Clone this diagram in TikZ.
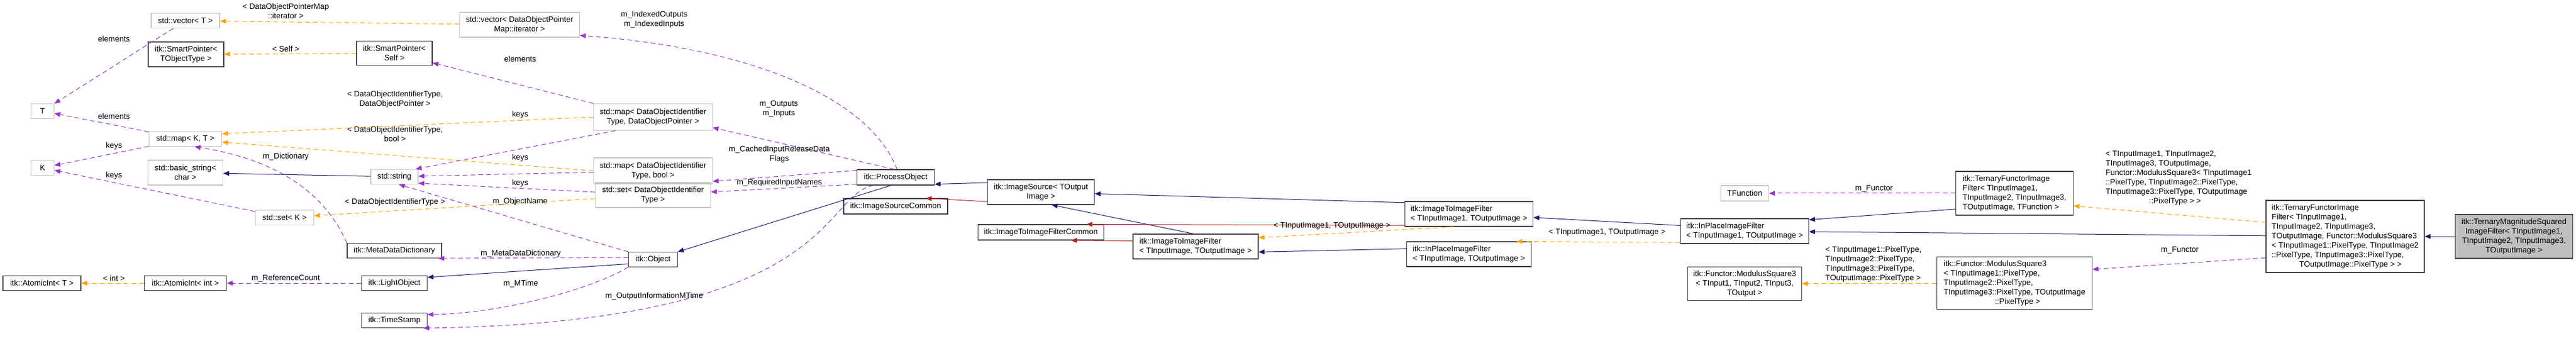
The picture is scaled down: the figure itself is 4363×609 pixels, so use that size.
\documentclass[tikz,border=0pt]{standalone}
\usepackage{fontspec}
\setmainfont{Liberation Sans}
\usetikzlibrary{arrows.meta,positioning}
\definecolor{inhblue}{RGB}{25,25,112}
\definecolor{useviolet}{RGB}{153,50,204}
\definecolor{tmplorange}{RGB}{255,165,0}
\definecolor{protred}{RGB}{178,34,34}
\tikzset{
  box/.style={draw=black!75, line width=0.9pt, inner sep=1pt, align=center, font=\fontsize{10}{12}\selectfont},
  extbox/.style={box, draw=black!22},
  selbox/.style={box, fill=black!25},
  wh/.style 2 args={minimum width=#1*0.75pt, minimum height=#2*0.75pt},
  lbl/.style={inner sep=0pt, align=center, font=\fontsize{10}{12}\selectfont},
  tip/.style={-{Triangle[length=7.5pt,width=6pt]}},
  inherit/.style={tip, draw=inhblue, line width=0.75pt},
  protinh/.style={tip, draw=protred, line width=0.75pt},
  uses/.style={tip, draw=useviolet, line width=0.75pt, dash pattern=on 6pt off 4pt},
  tmpl/.style={tip, draw=tmplorange, line width=0.75pt, dash pattern=on 6pt off 4pt}
}
\begin{document}
\begin{tikzpicture}[x=0.75pt,y=-0.75pt]
\useasboundingbox (0,0) rectangle (4363,609);
% classes
\node (vecT) [extbox, wh={116}{25}] at (314,35) {std::vector< T >};
\node (spT) [box, wh={128}{42}] at (315,92) {itk::SmartPointer<\\ TObjectType >};
\node (T) [extbox, wh={39}{25}] at (72,188) {T};
\node (mapKT) [extbox, wh={123}{25}] at (314,235) {std::map< K, T >};
\node (K) [extbox, wh={39}{25}] at (72,284) {K};
\node (bstr) [extbox, wh={127}{42}] at (314,292) {std::basic\_string<\\ char >};
\node (setK) [extbox, wh={99}{25}] at (482,368) {std::set< K >};
\node (aiT) [box, wh={132}{25}] at (71,479) {itk::AtomicInt< T >};
\node (aiInt) [box, wh={139}{25}] at (314,479) {itk::AtomicInt< int >};
\node (vecDOP) [extbox, wh={203}{42}] at (880,42) {std::vector< DataObjectPointer\\ Map::iterator >};
\node (spSelf) [box, wh={128}{41}] at (668,90) {itk::SmartPointer<\\ Self >};
\node (stdstr) [extbox, wh={80}{25}] at (668,299) {std::string};
\node (mdd) [box, wh={160}{25}] at (668,424) {itk::MetaDataDictionary};
\node (light) [box, wh={111}{25}] at (668,479) {itk::LightObject};
\node (tstamp) [box, wh={111}{25}] at (668,542) {itk::TimeStamp};
\node (obj) [box, wh={83}{25}] at (1106,439) {itk::Object};
\node (mapDOP) [extbox, wh={201}{45}] at (1106,198) {std::map< DataObjectIdentifier\\ Type, DataObjectPointer >};
\node (mapBool) [extbox, wh={201}{44}] at (1106,289) {std::map< DataObjectIdentifier\\ Type, bool >};
\node (setDOI) [extbox, wh={195}{42}] at (1106,330) {std::set< DataObjectIdentifier\\ Type >};
\node (proc) [box, wh={131}{26}] at (1517,300) {itk::ProcessObject};
\node (isc) [box, wh={176}{26}] at (1517,349) {itk::ImageSourceCommon};
\node (isrc) [box, wh={181}{42}] at (1763,325) {itk::ImageSource< TOutput\\ Image >};
\node (itifc) [box, wh={213}{26}] at (1763,393) {itk::ImageToImageFilterCommon};
\node (itif) [box, wh={212}{42}, align=left] at (2025,417) {itk::ImageToImageFilter\\< TInputImage, TOutputImage >};
\node (itif1) [box, wh={217}{42}, align=left] at (2488,362) {itk::ImageToImageFilter\\< TInputImage1, TOutputImage >};
\node (ipif) [box, wh={211}{42}, align=left] at (2488,430) {itk::InPlaceImageFilter\\< TInputImage, TOutputImage >};
\node (tfun) [extbox, wh={81}{26}] at (2955,327) {TFunction};
\node (ipif1) [box, wh={217}{42}, align=left] at (2955,391) {itk::InPlaceImageFilter\\< TInputImage1, TOutputImage >};
\node (ms3) [box, wh={193}{57}] at (2955,480) {itk::Functor::ModulusSquare3\\< TInput1, TInput2, TInput3,\\ TOutput >};
\node (tfif) [box, wh={199}{74}, align=left] at (3412,327) {itk::TernaryFunctorImage\\Filter< TInputImage1,\\ TInputImage2, TInputImage3,\\ TOutputImage, TFunction >};
\node (ms3px) [box, wh={263}{89}, align=left] at (3412,479) {itk::Functor::ModulusSquare3\\< TInputImage1::PixelType,\\ TInputImage2::PixelType,\\ TInputImage3::PixelType, TOutputImage\\ \hspace*{6.5em}::PixelType >};
\node (tfifbig) [box, wh={268}{122}, align=left] at (3972,400) {itk::TernaryFunctorImage\\Filter< TInputImage1,\\ TInputImage2, TInputImage3,\\ TOutputImage, Functor::ModulusSquare3\\< TInputImage1::PixelType, TInputImage2\\::PixelType, TInputImage3::PixelType,\\ \hspace*{3.5em}TOutputImage::PixelType > >};
\node (tmsq) [selbox, wh={199}{74}] at (4258,400) {itk::TernaryMagnitudeSquared\\ImageFilter< TInputImage1,\\ TInputImage2, TInputImage3,\\ TOutputImage >};
% connectors
\draw [tmpl] (vecDOP) -- (vecT);
\draw [tmpl] (spSelf) -- (spT);
\draw [uses] (vecT) -- (T);
\draw [uses] (mapKT) -- (T);
\draw [uses] (mapKT) -- (K);
\draw [uses] (setK) -- (K);
\draw [tmpl] (mapDOP.west) -- (mapKT.8);
\draw [tmpl] (mapBool.west) -- (mapKT.-5);
\draw [tmpl] (setDOI) -- (setK);
\draw [inherit] (stdstr) -- (bstr);
\draw [uses] (mdd.north west) .. controls (560,350) and (500,275) .. (mapKT.-40);
\draw [uses] (mapDOP.north west) -- (spSelf);
\draw [uses] (mapDOP.200) -- (stdstr.20);
\draw [uses] (mapBool) -- (stdstr);
\draw [uses] (setDOI) -- (stdstr.-15);
\draw [uses] (obj.north west) -- (stdstr.-60);
\draw [uses] (obj.175) -- (mdd.-10);
\draw [inherit] (obj.190) -- (light.10);
\draw [uses] (obj.south west) .. controls (1000,490) and (850,530) .. (tstamp.10);
\draw [uses] (light) -- (aiInt);
\draw [tmpl] (aiInt) -- (aiT);
\draw [uses] (proc.200) .. controls (1390,330) and (1420,545) .. (tstamp.-15);
\draw [uses] (proc.80) .. controls (1470,160) and (1260,80) .. (vecDOP.-10);
\draw [uses] (proc.100) -- (mapDOP.-10);
\draw [uses] (proc.170) -- (mapBool.-10);
\draw [uses] (proc.190) -- (setDOI);
\draw [inherit] (proc.-120) -- (obj.north east);
\draw [inherit] (isrc.170) -- (proc.-10);
\draw [protinh] (isrc.190) -- (isc.15);
\draw [inherit] (itif.100) -- (isrc.-50);
\draw [protinh] (itif.175) -- (itifc.-15);
\draw [inherit] (itif1.170) -- (isrc);
\draw [protinh] (itif1.190) -- (itifc.10);
\draw [tmpl] (itif1.-140) -- (itif.8);
\draw [inherit] (ipif.175) -- (itif.-5);
\draw [inherit] (ipif1.175) -- (itif1);
\draw [tmpl] (ipif1.190) -- (ipif.15);
\draw [uses] (tfif) -- (tfun);
\draw [inherit] (tfif.195) -- (ipif1.10);
\draw [inherit] (tfifbig) -- (ipif1);
\draw [tmpl] (tfifbig.170) -- (tfif.-12);
\draw [tmpl] (ms3px) -- (ms3);
\draw [uses] (tfifbig.195) -- (ms3px.10);
\draw [inherit] (tmsq) -- (tfifbig);
% edge labels
\node (l1) [lbl] at (484,19) {< DataObjectPointerMap\\::iterator >};
\node (l2) [lbl] at (484,83) {< Self >};
\node (l3) [lbl] at (193,66) {elements};
\node (l4) [lbl] at (193,197) {elements};
\node (l5) [lbl] at (193,247) {keys};
\node (l6) [lbl] at (193,297) {keys};
\node (l7) [lbl] at (669,168) {< DataObjectIdentifierType,\\DataObjectPointer >};
\node (l8) [lbl] at (669,227) {< DataObjectIdentifierType,\\bool >};
\node (l9) [lbl] at (669,342) {< DataObjectIdentifierType >};
\node (l10) [lbl] at (484,265) {m\_Dictionary};
\node (l11) [lbl] at (881,100) {elements};
\node (l12) [lbl] at (881,194) {keys};
\node (l13) [lbl] at (881,267) {keys};
\node (l14) [lbl] at (881,310) {keys};
\node (l15) [lbl] at (881,341) {m\_ObjectName};
\node (l16) [lbl] at (882,429) {m\_MetaDataDictionary};
\node (l17) [lbl] at (882,480) {m\_MTime};
\node (l18) [lbl] at (1108,501) {m\_OutputInformationMTime};
\node (l19) [lbl] at (484,471) {m\_ReferenceCount};
\node (l20) [lbl] at (193,471) {< int >};
\node (l21) [lbl] at (1108,33) {m\_IndexedOutputs\\m\_IndexedInputs};
\node (l22) [lbl] at (1319,184) {m\_Outputs\\m\_Inputs};
\node (l23) [lbl] at (1320,261) {m\_CachedInputReleaseData\\Flags};
\node (l24) [lbl] at (1320,309) {m\_RequiredInputNames};
\node (l25) [lbl] at (2256,382) {< TInputImage1, TOutputImage >};
\node (l26) [lbl] at (2722,393) {< TInputImage1, TOutputImage >};
\node (l27) [lbl] at (3174,319) {m\_Functor};
\node (l28) [lbl, align=left] at (3173,447) {< TInputImage1::PixelType,\\TInputImage2::PixelType,\\TInputImage3::PixelType,\\TOutputImage::PixelType >};
\node (l29) [lbl, align=left] at (3690,301) {< TInputImage1, TInputImage2,\\TInputImage3, TOutputImage,\\Functor::ModulusSquare3< TInputImage1\\::PixelType, TInputImage2::PixelType,\\TInputImage3::PixelType, TOutputImage\\\hspace*{5.5em}::PixelType > >};
\node (l30) [lbl] at (3692,423) {m\_Functor};
\end{tikzpicture}
\end{document}
